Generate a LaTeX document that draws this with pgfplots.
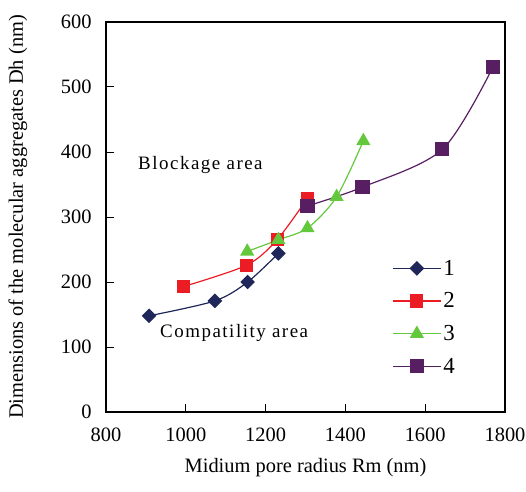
\documentclass[border=0pt]{standalone}
\usepackage{fontspec}
\setmainfont{Liberation Serif}
\newfontfamily\tnr{Liberation Serif}
\usepackage{pgfplots}
\pgfplotsset{compat=1.18}
\definecolor{c1}{RGB}{30,38,90}
\definecolor{c2}{RGB}{235,28,36}
\definecolor{c3}{RGB}{100,200,60}
\definecolor{c4}{RGB}{88,30,98}
\begin{document}
\begin{tikzpicture}[font=\tnr]
\useasboundingbox (-106bp,-80bp) rectangle (420bp,412bp);
\begin{axis}[at={(0,0)}, anchor=south west, scale only axis, width=399bp, height=390bp,
  xmin=800, xmax=1800, ymin=0, ymax=600,
  xtick={800,1000,...,1800}, ytick={0,100,...,600},
  tick pos=left, tick align=inside, major tick length=8bp,
  axis line style={line width=1.3pt}, tick style={line width=1pt, black},
  /pgf/number format/assume math mode=true, /pgf/number format/1000 sep={},
  ticklabel style={font=\tnr\fontsize{20.5}{21}\selectfont},
  xticklabel style={yshift=-12bp}, yticklabel style={xshift=-11bp},
  xlabel={Midium pore radius Rm (nm)}, ylabel={Dimensions of the molecular aggregates Dh (nm)},
  label style={font=\tnr\fontsize{20.5}{21}\selectfont},
  xlabel style={at={(0.5,-0.1436)}, anchor=center},
  ylabel style={at={(-0.2206,0.5)}, anchor=center},
  legend style={at={(0.717,0.395)}, anchor=north west, draw=none, fill=none,
    font=\tnr\fontsize{23}{23}\selectfont, row sep=12bp, inner sep=0pt},
  legend cell align=left,
  legend image code/.code={\draw[mark repeat=2,mark phase=2] plot coordinates {(0bp,0bp) (24bp,0bp) (48bp,0bp)};},
  every axis plot/.append style={line width=1.2pt, smooth}]
\addplot[c1, mark=square*, mark options={rotate=45}, mark size=4.6bp] coordinates {(908,148) (1073,171) (1155,200) (1232,244)};
\addlegendentry{1}
\addplot[c2, mark=square*, mark size=6bp] coordinates {(994,193) (1153,226) (1230,266) (1305,329)};
\addlegendentry{2}
\addplot[c3, mark=triangle*, mark size=7bp] coordinates {(1154,247) (1232,265) (1305,283) (1378,331) (1445,417)};
\addlegendentry{3}
\addplot[c4, mark=square*, mark size=6.5bp] coordinates {(1305,317) (1443,346) (1643,404) (1770,531)};
\addlegendentry{4}
\node[anchor=west, font=\tnr\fontsize{19}{20}\selectfont\addfontfeature{LetterSpace=8}] at (axis cs:872,380) {Blockage area};
\node[anchor=west, font=\tnr\fontsize{19}{20}\selectfont\addfontfeature{LetterSpace=8}] at (axis cs:927,121) {Compatility area};
\end{axis}
\end{tikzpicture}
\end{document}
